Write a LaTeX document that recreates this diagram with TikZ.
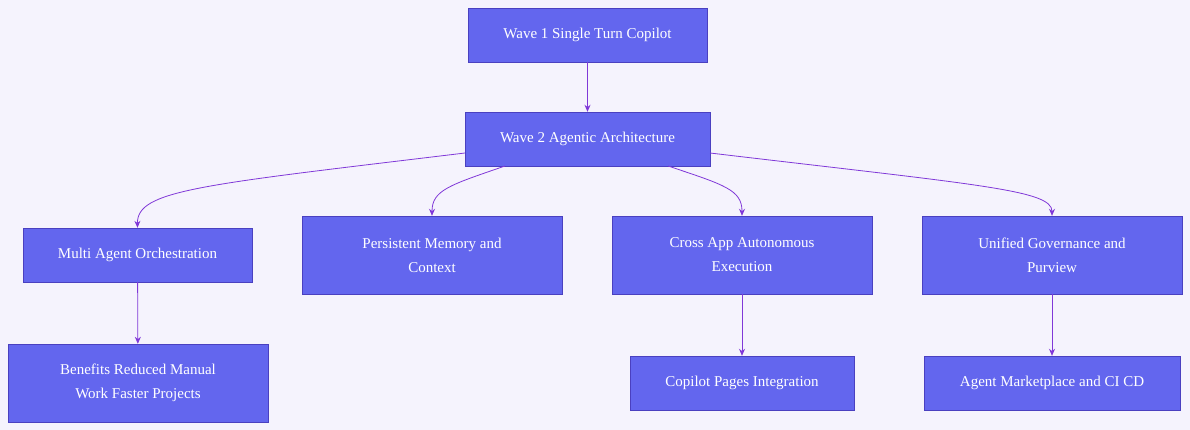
\documentclass[tikz,border=0pt]{standalone}
\usepackage{fontspec}
\setmainfont{Liberation Serif}
\usetikzlibrary{arrows.meta}
\definecolor{bg}{HTML}{F5F3FD}
\definecolor{nodef}{HTML}{6366EE}
\definecolor{noded}{HTML}{4A40C0}
\definecolor{edge}{HTML}{8038D8}
\begin{document}
\begin{tikzpicture}[x=1pt,y=-1pt,
  box/.style={draw=noded,fill=nodef,text=white,align=center,inner sep=0pt,font=\fontsize{15}{24}\selectfont},
  arr/.style={draw=edge,line width=0.8pt,-{Stealth[length=7pt,width=6pt]}}]
\fill[bg] (0,0) rectangle (1190,430);
\useasboundingbox (0,0) rectangle (1190,430);
\node[box,minimum width=239pt,minimum height=54pt] (w1) at (587.5,35) {Wave 1 Single Turn Copilot};
\node[box,minimum width=245pt,minimum height=54pt] (w2) at (587.5,139) {Wave 2 Agentic Architecture};
\node[box,minimum width=229pt,minimum height=54pt] (ma) at (137.5,255) {Multi Agent Orchestration};
\node[box,minimum width=260pt,minimum height=78pt] (pm) at (432,255) {Persistent Memory and\\Context};
\node[box,minimum width=260pt,minimum height=78pt] (ca) at (742,255) {Cross App Autonomous\\Execution};
\node[box,minimum width=260pt,minimum height=78pt] (ug) at (1052,255) {Unified Governance and\\Purview};
\node[box,minimum width=260pt,minimum height=78pt] (be) at (138,383) {Benefits Reduced Manual\\ Work Faster Projects};
\node[box,minimum width=224pt,minimum height=54pt] (cp) at (742,383) {Copilot Pages Integration};
\node[box,minimum width=256pt,minimum height=54pt] (am) at (1052,383) {Agent Marketplace and CI CD};
\draw[arr] (w1) -- (w2);
\coordinate (s1) at (465,153);
\coordinate (s2) at (505,166);
\coordinate (s3) at (668,166);
\coordinate (s4) at (710,153);
\draw[arr] (s1) .. controls (200,185) and (137,190) .. (ma.north);
\draw[arr] (s2) .. controls (450,185) and (432,190) .. (pm.north);
\draw[arr] (s3) .. controls (725,185) and (742,190) .. (ca.north);
\draw[arr] (s4) .. controls (980,185) and (1052,190) .. (ug.north);
\draw[arr] (ma) -- (be);
\draw[arr] (ca) -- (cp);
\draw[arr] (ug) -- (am);
\end{tikzpicture}
\end{document}
